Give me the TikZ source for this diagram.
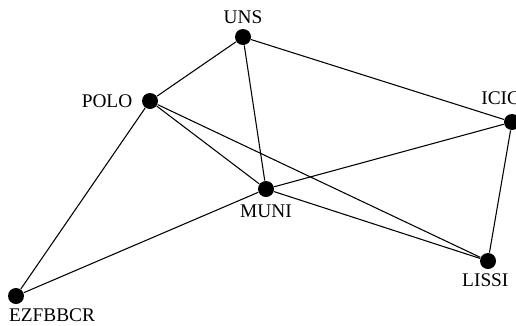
\documentclass[tikz,border=0pt]{standalone}
\usepackage{fontspec}
\setmainfont{Liberation Serif}
\begin{document}
\begin{tikzpicture}[x=0.75pt, y=-0.75pt, thick]
	\tikzset{site/.style={circle, fill=black, inner sep=0pt, minimum size=12pt},
		sitelabel/.style={font=\fontsize{14.5}{17}\selectfont, inner sep=0pt}}

	\useasboundingbox (0,0) rectangle (516,325);

	\node[site, label={[sitelabel, yshift=3pt]above:UNS}] (uns) at (243,37) {};
	\node[site, label={[sitelabel, xshift=-6.5pt]left:POLO}] (polo) at (150,101) {};
	\node[site, label={[sitelabel, xshift=-8.5pt, yshift=6.5pt]above:ICIC}] (icic) at (512,122) {};
	\node[site, label={[sitelabel, yshift=-5pt]below:MUNI}] (muni) at (266,189) {};
	\node[site, label={[sitelabel, xshift=-2pt, yshift=-3pt]below:LISSI}] (lissi) at (488,261) {};
	\node[site, label={[sitelabel, xshift=27pt, yshift=-3pt]below:EZFBBCR}] (ezf) at (16,296) {};

	\draw (uns) -- (polo);
	\draw (uns) -- (icic);
	\draw (uns) -- (muni);
	\draw (polo) -- (muni);
	\draw (polo) -- (lissi);
	\draw (polo) -- (ezf);
	\draw (ezf) -- (muni);
	\draw (muni) -- (icic);
	\draw (muni) -- (lissi);
	\draw (icic) -- (lissi);

\end{tikzpicture}
\end{document}
